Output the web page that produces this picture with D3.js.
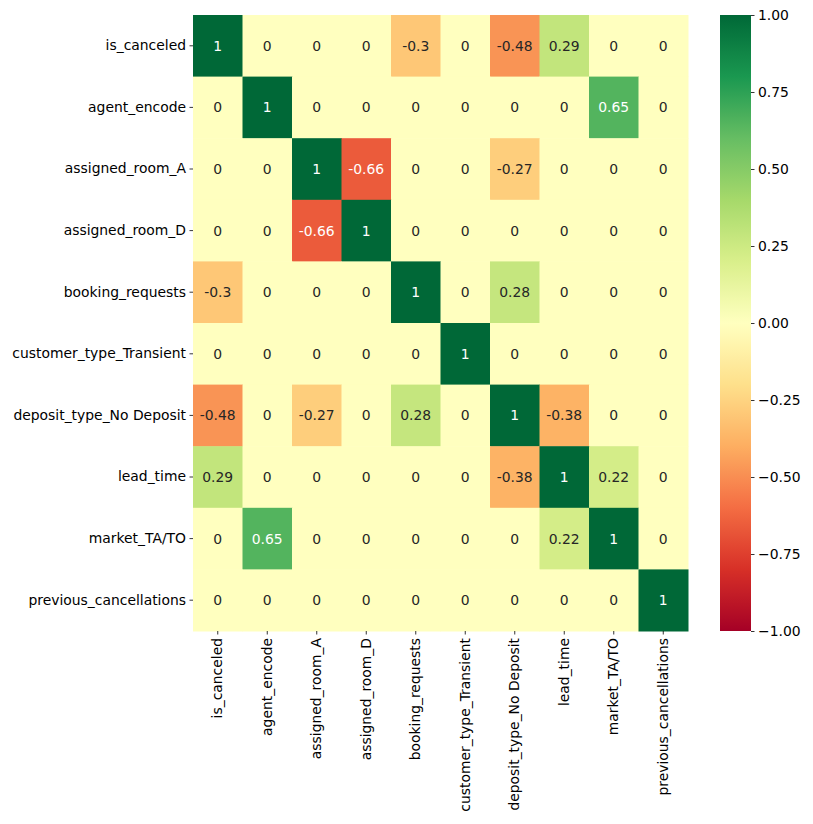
<!DOCTYPE html>
<html><head><meta charset="utf-8">
<script src="https://cdn.jsdelivr.net/npm/d3@7"></script>
<style>body{margin:0;background:#fff}svg{display:block}text{font-family:"DejaVu Sans",sans-serif}</style>
</head><body><svg id="c" width="813" height="824"></svg>
<script>
const labels = ["is_canceled","agent_encode","assigned_room_A","assigned_room_D","booking_requests","customer_type_Transient","deposit_type_No Deposit","lead_time","market_TA/TO","previous_cancellations"];
const matrix = [
 [1,0,0,0,-0.3,0,-0.48,0.29,0,0],
 [0,1,0,0,0,0,0,0,0.65,0],
 [0,0,1,-0.66,0,0,-0.27,0,0,0],
 [0,0,-0.66,1,0,0,0,0,0,0],
 [-0.3,0,0,0,1,0,0.28,0,0,0],
 [0,0,0,0,0,1,0,0,0,0],
 [-0.48,0,-0.27,0,0.28,0,1,-0.38,0,0],
 [0.29,0,0,0,0,0,-0.38,1,0.22,0],
 [0,0.65,0,0,0,0,0,0.22,1,0],
 [0,0,0,0,0,0,0,0,0,1]
];
const cbTicks = [1,0.75,0.5,0.25,0,-0.25,-0.5,-0.75,-1];
const rdylgn = ["#a50026","#d73027","#f46d43","#fdae61","#fee08b","#ffffbf","#d9ef8b","#a6d96a","#66bd63","#1a9850","#006837"];

const svg = d3.select("#c");
const L=193,R=688,T=15,B=631;
const x = d3.scaleBand().domain(labels).range([L,R]);
const y = d3.scaleBand().domain(labels).range([T,B]);
const color = d3.scaleLinear().domain(d3.range(11).map(i=>-1+i*0.2)).range(rdylgn).interpolate(d3.interpolateRgb).clamp(true);

const cells=[];
matrix.forEach((row,i)=>row.forEach((v,j)=>cells.push({r:labels[i],c:labels[j],v})));
svg.append("g").selectAll("rect").data(cells).join("rect")
 .attr("x",d=>x(d.c)).attr("y",d=>y(d.r)).attr("width",x.bandwidth()+0.5).attr("height",y.bandwidth()+0.5)
 .attr("fill",d=>color(d.v));
function lum(c){const r=d3.rgb(c);const f=u=>{u/=255;return u<=0.03928?u/12.92:Math.pow((u+0.055)/1.055,2.4)};return 0.2126*f(r.r)+0.7152*f(r.g)+0.0722*f(r.b);}
const fmt=d3.format(".2~g");
svg.append("g").selectAll("text").data(cells).join("text")
 .attr("x",d=>x(d.c)+x.bandwidth()/2).attr("y",d=>y(d.r)+y.bandwidth()/2)
 .attr("text-anchor","middle").attr("dominant-baseline","central").attr("font-size","13.9px")
 .attr("fill",d=>lum(color(d.v))<0.408?"#ffffff":"#262626")
 .text(d=>fmt(d.v).replace("−","-"));

const ya=svg.append("g").attr("transform",`translate(${L},0)`).call(d3.axisLeft(y).tickSize(3.5).tickPadding(3.5));
const xa=svg.append("g").attr("transform",`translate(0,${B})`).call(d3.axisBottom(x).tickSize(3.5).tickPadding(3.5));
[ya,xa].forEach(a=>{a.select(".domain").remove();a.selectAll("text").attr("font-size","13.9px").attr("font-family","DejaVu Sans").attr("fill","#000");a.selectAll("line").attr("stroke","#000").attr("stroke-width",0.8);});
xa.selectAll("text").attr("transform","rotate(-90)").attr("text-anchor","end").attr("x",-7).attr("y",0).attr("dy","0.32em");

// colorbar
const cx0=720,cx1=751;
const defs=svg.append("defs");
const grad=defs.append("linearGradient").attr("id","g").attr("x1",0).attr("y1",1).attr("x2",0).attr("y2",0);
d3.range(0,1.0001,0.02).forEach(t=>grad.append("stop").attr("offset",t).attr("stop-color",color(-1+2*t)));
svg.append("rect").attr("x",cx0).attr("y",T).attr("width",cx1-cx0).attr("height",B-T).attr("fill","url(#g)");
const cy=d3.scaleLinear().domain([-1,1]).range([B,T]);
const ca=svg.append("g").attr("transform",`translate(${cx1},0)`).call(d3.axisRight(cy).tickValues(cbTicks).tickFormat(d=>d3.format(".2f")(d)).tickSize(3.5).tickPadding(3.5));
ca.select(".domain").remove();
ca.selectAll("text").attr("font-size","13.9px").attr("font-family","DejaVu Sans").attr("fill","#000");
ca.selectAll("line").attr("stroke","#000").attr("stroke-width",0.8);
</script></body></html>
